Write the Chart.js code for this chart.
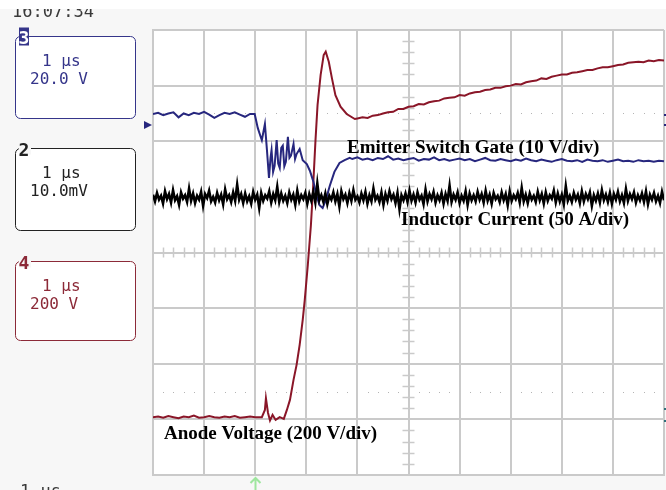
<!DOCTYPE html>
<html>
<head>
<meta charset="utf-8">
<script src="https://cdn.jsdelivr.net/npm/chart.js@4.4.1/dist/chart.umd.min.js"></script>
<style>
  body { margin: 0; background: #f7f7f7; }
  canvas { display: block; }
</style>
</head>
<body>
<canvas id="scope" width="666" height="490"></canvas>
<script>
// time in µs (1 µs/div), vertical values in screen divisions (0 = centre line)

// channel 3 - emitter switch gate
const gateTime = [
  0, 0.1, 0.2, 0.3, 0.4, 0.5, 0.6, 0.7, 0.8, 0.9, 1.0, 1.1, 1.2, 1.3, 1.4, 1.5, 1.6, 1.7, 1.8, 1.9,
  1.99, 2.05, 2.10, 2.13, 2.19, 2.23, 2.27, 2.30, 2.32, 2.35, 2.38, 2.42, 2.45, 2.48, 2.51, 2.54, 2.57, 2.60, 2.64, 2.67, 2.70, 2.75, 2.78, 2.81,
  2.87, 2.93, 3.01, 3.07, 3.14, 3.20, 3.26, 3.32, 3.38, 3.46, 3.55, 3.65, 3.75, 3.85,
  3.9, 4.0, 4.1, 4.2, 4.3, 4.4, 4.5, 4.6, 4.7, 4.8, 4.9, 5.0, 5.1, 5.2, 5.3, 5.4, 5.5, 5.6, 5.7,
  5.8, 5.9, 6.0, 6.1, 6.2, 6.3, 6.4, 6.5, 6.6, 6.7, 6.8, 6.9, 7.0, 7.1, 7.2, 7.3, 7.4, 7.5, 7.6,
  7.7, 7.8, 7.9, 8.0, 8.1, 8.2, 8.3, 8.4, 8.5, 8.6, 8.7, 8.8, 8.9, 9.0, 9.1, 9.2, 9.3, 9.4, 9.5,
  9.6, 9.7, 9.8, 9.9, 10.0
];
const gateValue = [
  2.49, 2.51, 2.47, 2.50, 2.52, 2.43, 2.50, 2.47, 2.51, 2.49, 2.53, 2.48, 2.42, 2.47, 2.51, 2.49, 2.52, 2.48, 2.44, 2.49,
  2.49, 2.24, 2.10, 2.02, 2.31, 1.84, 1.34, 1.70, 1.84, 1.45, 1.56, 2.02, 1.60, 1.52, 1.88, 1.92, 1.55, 1.63, 2.08, 1.70, 1.74, 1.95, 1.68, 1.77,
  1.86, 1.66, 1.59, 1.47, 1.27, 1.02, 0.85, 0.80, 0.94, 1.20, 1.45, 1.61, 1.66, 1.70,
  1.68, 1.71, 1.67, 1.69, 1.66, 1.70, 1.68, 1.73, 1.67, 1.69, 1.66, 1.68, 1.70, 1.65, 1.68, 1.67,
  1.71, 1.66, 1.68, 1.65, 1.67, 1.69, 1.66, 1.68, 1.64, 1.67, 1.70, 1.66, 1.65, 1.68, 1.66, 1.64,
  1.67, 1.65, 1.69, 1.66, 1.64, 1.67, 1.65, 1.63, 1.66, 1.68, 1.65, 1.64, 1.66, 1.63, 1.67, 1.65,
  1.64, 1.66, 1.63, 1.65, 1.67, 1.64, 1.65, 1.63, 1.66, 1.64, 1.65, 1.63, 1.65, 1.64
];

// channel 4 - anode voltage
const anodeTime = [
  0, 0.1, 0.2, 0.3, 0.4, 0.5, 0.6, 0.7, 0.8, 0.9, 1.0, 1.1, 1.2, 1.3, 1.4, 1.5, 1.6, 1.7, 1.8, 1.9, 2.0,
  2.13, 2.19, 2.21, 2.25, 2.29, 2.34, 2.40, 2.48, 2.56, 2.62, 2.68, 2.75, 2.81, 2.87, 2.93, 2.97,
  3.03, 3.09, 3.13, 3.18, 3.22, 3.28, 3.34, 3.38, 3.44, 3.50, 3.57, 3.67, 3.79, 3.95,
  4.0, 4.1, 4.2, 4.3, 4.4, 4.5, 4.6, 4.7, 4.8, 4.9, 5.0, 5.1, 5.2, 5.3, 5.4, 5.5, 5.6, 5.7, 5.8,
  5.9, 6.0, 6.1, 6.2, 6.3, 6.4, 6.5, 6.6, 6.7, 6.8, 6.9, 7.0, 7.1, 7.2, 7.3, 7.4, 7.5, 7.6, 7.7,
  7.8, 7.9, 8.0, 8.1, 8.2, 8.3, 8.4, 8.5, 8.6, 8.7, 8.8, 8.9, 9.0, 9.1, 9.2, 9.3, 9.4, 9.5, 9.6,
  9.7, 9.8, 9.9, 10.0
];
const anodeValue = [
  -2.96, -2.95, -2.97, -2.94, -2.96, -2.98, -2.95, -2.96, -2.93, -2.97, -2.96, -2.94, -2.96, -2.97, -2.95, -2.96, -2.94, -2.97, -2.96, -2.95, -2.96,
  -2.96, -2.83, -2.62, -2.88, -3.02, -2.92, -3.01, -2.96, -2.99, -2.83, -2.65, -2.29, -2.02, -1.66, -1.21, -0.85,
  -0.22, 0.49, 1.12, 2.02, 2.65, 3.19, 3.55, 3.61, 3.43, 3.14, 2.83, 2.62, 2.49, 2.40,
  2.41, 2.43, 2.42, 2.46, 2.47, 2.50, 2.52, 2.53, 2.58, 2.58, 2.62, 2.63, 2.67, 2.66, 2.70, 2.72, 2.73, 2.77, 2.78,
  2.79, 2.83, 2.82, 2.86, 2.88, 2.89, 2.92, 2.93, 2.96, 2.96, 2.99, 3.00, 3.03, 3.02, 3.06, 3.08, 3.09, 3.13, 3.12,
  3.16, 3.18, 3.20, 3.20, 3.23, 3.24, 3.26, 3.28, 3.28, 3.31, 3.33, 3.33, 3.35, 3.37, 3.38, 3.41, 3.42, 3.43, 3.42,
  3.45, 3.44, 3.46, 3.45
];

// channel 2 - inductor current, one sample per 10/255 µs
const currentStep = 10 / 255;
const currentValue = [
  1.04, 0.92, 1.07, 0.95, 1.02, 0.88, 1.10, 0.96, 1.05, 0.90, 1.12, 0.94, 1.01, 0.86, 1.08, 0.97,
  1.03, 0.91, 1.15, 0.93, 1.06, 0.89, 1.02, 0.95, 1.09, 0.84, 1.05, 0.98, 1.11, 0.92, 1.00, 0.90,
  1.07, 0.94, 1.04, 0.87, 1.13, 0.96, 1.03, 0.91, 1.08, 0.93, 1.22, 0.95, 1.05, 0.89, 1.06, 0.92,
  1.01, 0.88, 1.09, 0.95, 1.04, 0.80, 1.07, 0.93, 1.03, 0.97, 1.10, 0.90, 1.05, 0.94, 1.18, 0.91,
  1.06, 0.93, 1.02, 0.89, 1.08, 0.95, 1.04, 0.86, 1.11, 0.92, 1.03, 0.96, 1.07, 0.88, 1.05, 0.93,
  1.09, 0.90, 1.24, 0.94, 1.03, 0.91, 1.06, 0.87, 1.02, 0.95, 1.08, 0.92, 1.05, 0.83, 1.10, 0.96,
  1.04, 0.89, 1.07, 0.93, 1.12, 0.95, 1.01, 0.90, 1.06, 0.94, 1.09, 0.88, 1.03, 0.92, 1.15, 0.95,
  1.02, 0.91, 1.08, 0.86, 1.05, 0.93, 1.10, 0.96, 1.04, 0.89, 1.07, 0.78, 1.03, 0.94, 1.06, 0.91,
  1.11, 0.93, 1.04, 0.90, 1.08, 0.95, 1.02, 0.87, 1.13, 0.92, 1.05, 0.96, 1.09, 0.90, 1.03, 0.94,
  1.07, 0.88, 1.05, 0.93, 1.20, 0.91, 1.04, 0.95, 1.08, 0.89, 1.02, 0.93, 1.10, 0.86, 1.06, 0.94,
  1.03, 0.92, 1.09, 0.95, 1.05, 0.90, 1.11, 0.93, 1.04, 0.88, 1.07, 0.96, 1.02, 0.91, 1.08, 0.94,
  1.05, 0.85, 1.10, 0.93, 1.03, 0.96, 1.07, 0.90, 1.16, 0.92, 1.04, 0.89, 1.06, 0.95, 1.02, 0.91,
  1.09, 0.94, 1.05, 0.88, 1.08, 0.93, 1.03, 0.97, 1.11, 0.90, 1.06, 0.92, 1.04, 0.87, 1.19, 0.93,
  1.02, 0.91, 1.07, 0.95, 1.04, 0.89, 1.10, 0.92, 1.05, 0.96, 1.08, 0.84, 1.03, 0.93, 1.06, 0.90,
  1.12, 0.94, 1.04, 0.91, 1.07, 0.88, 1.05, 0.95, 1.09, 0.92, 1.03, 0.89, 1.14, 0.93, 1.05, 0.96,
  1.08, 0.90, 1.03, 0.94, 1.06, 0.91, 1.10, 0.87, 1.04, 0.95, 1.07, 0.92, 1.02, 0.89, 1.09, 0.94
];

const traceLabels = ['Emitter Switch Gate (10 V/div)', 'Inductor Current (50 A/div)', 'Anode Voltage (200 V/div)'];
const channelBoxes = [
  { ch: '3', time: '1 µs', scale: '20.0 V', color: '#35358a' },
  { ch: '2', time: '1 µs', scale: '10.0mV', color: '#222222' },
  { ch: '4', time: '1 µs', scale: '200 V', color: '#8c2a38' }
];

const BLUE = '#27277e';
const RED = '#8a1628';
const GRID = '#cacaca';

const pairs = (xs, ys) => ys.map((y, i) => ({ x: xs[i], y }));

const scopeDecor = {
  id: 'scopeDecor',
  beforeDraw(chart) {
    const { ctx, chartArea: a } = chart;
    ctx.save();
    ctx.fillStyle = '#f7f7f7';
    ctx.fillRect(0, 0, chart.width, chart.height);
    ctx.fillStyle = '#ffffff';
    ctx.fillRect(a.left, a.top, a.right - a.left, a.bottom - a.top);
    ctx.restore();
  },
  beforeDatasetsDraw(chart) {
    const { ctx, scales: { x, y } } = chart;
    ctx.save();
    ctx.strokeStyle = GRID;
    ctx.lineWidth = 1.5;
    // minor ticks on the centre lines
    const yc = y.getPixelForValue(0);
    for (let t = 0.2; t < 10; t += 0.2) {
      if (Math.abs(t - Math.round(t)) < 0.01) continue;
      const px = Math.round(x.getPixelForValue(t)) + 0.5;
      ctx.beginPath(); ctx.moveTo(px, yc - 5); ctx.lineTo(px, yc + 5); ctx.stroke();
    }
    const xc = x.getPixelForValue(5);
    for (let v = -3.8; v < 4; v += 0.2) {
      if (Math.abs(v - Math.round(v)) < 0.01) continue;
      const py = Math.round(y.getPixelForValue(v)) + 0.5;
      ctx.beginPath(); ctx.moveTo(xc - 6, py); ctx.lineTo(xc + 6, py); ctx.stroke();
    }
    // dotted lines at +-2.5 div
    ctx.fillStyle = '#b4b4b4';
    [2.5, -2.5].forEach(v => {
      const py = Math.round(y.getPixelForValue(v));
      for (let t = 0.2; t < 10; t += 0.2) {
        if (Math.abs(t - Math.round(t)) < 0.01) continue;
        ctx.fillRect(Math.round(x.getPixelForValue(t)), py, 1, 1);
      }
    });
    ctx.restore();
  },
  afterDraw(chart) {
    const { ctx } = chart;
    ctx.save();

    // trace annotations
    ctx.fillStyle = '#000';
    ctx.font = 'bold 19px "Liberation Serif"';
    ctx.textBaseline = 'alphabetic';
    ctx.fillText(traceLabels[0], 347, 153, 253);
    ctx.fillText(traceLabels[1], 401, 225, 229);
    ctx.fillText(traceLabels[2], 164, 439, 219);

    // channel boxes on the left
    const tops = [36.5, 148.5, 261.5];
    const bottoms = [118.5, 230.5, 340.5];
    channelBoxes.forEach((b, i) => {
      ctx.strokeStyle = b.color;
      ctx.lineWidth = 1;
      ctx.beginPath();
      ctx.roundRect(15.5, tops[i], 120, bottoms[i] - tops[i], 5);
      ctx.fillStyle = '#ffffff';
      ctx.fill();
      ctx.stroke();
      ctx.fillStyle = b.color;
      ctx.font = '16px "DejaVu Sans Mono"';
      ctx.fillText(b.time, 42, tops[i] + 29);
      ctx.fillText(b.scale, 30, tops[i] + 47);
      ctx.font = 'bold 18px "DejaVu Sans Mono"';
      if (i === 0) {
        ctx.fillRect(19, tops[i] - 9, 10, 18);
        ctx.fillStyle = '#ffffff';
        ctx.fillText(b.ch, 18.5, tops[i] + 7);
      } else {
        ctx.fillStyle = '#f7f7f7';
        ctx.fillRect(19, tops[i] - 10, 12, 16);
        ctx.fillStyle = b.color;
        ctx.fillText(b.ch, 18.5, tops[i] + 7);
      }
    });

    // clock at top and timebase at bottom, both cut by the frame
    ctx.fillStyle = '#3a3a3a';
    ctx.font = '17px "DejaVu Sans Mono"';
    ctx.fillText('16:07:34', 12, 17);
    ctx.fillText('1 µs', 20, 497);
    ctx.fillStyle = '#ffffff';
    ctx.fillRect(0, 0, 666, 9);

    // ground marker for channel 3
    ctx.fillStyle = BLUE;
    ctx.beginPath();
    ctx.moveTo(144, 121); ctx.lineTo(152, 125); ctx.lineTo(144, 129); ctx.closePath();
    ctx.fill();
    ctx.fillRect(664, 114, 2, 2);
    ctx.fillRect(664, 124, 2, 2);
    ctx.fillStyle = '#2f6f7a';
    ctx.fillRect(664, 408, 2, 2);
    ctx.fillRect(664, 420, 2, 2);

    // trigger arrow
    const tx = Math.round(chart.scales.x.getPixelForValue(2)) + 0.5;
    ctx.strokeStyle = '#9ee69e';
    ctx.lineWidth = 2;
    ctx.beginPath();
    ctx.moveTo(tx, 490); ctx.lineTo(tx, 478);
    ctx.moveTo(tx - 5, 483); ctx.lineTo(tx, 478); ctx.lineTo(tx + 5, 483);
    ctx.stroke();
    ctx.restore();
  }
};

new Chart(document.getElementById('scope'), {
  type: 'scatter',
  data: {
    datasets: [
      {
        label: 'Inductor Current',
        data: currentValue.map((v, i) => ({ x: i * currentStep, y: v })),
        borderColor: '#000000',
        borderWidth: 2.6,
        showLine: true,
        pointRadius: 0
      },
      {
        label: 'Emitter Switch Gate',
        data: pairs(gateTime, gateValue),
        borderColor: BLUE,
        borderWidth: 2,
        showLine: true,
        pointRadius: 0
      },
      {
        label: 'Anode Voltage',
        data: pairs(anodeTime, anodeValue),
        borderColor: RED,
        borderWidth: 2,
        showLine: true,
        pointRadius: 0
      }
    ]
  },
  options: {
    responsive: false,
    devicePixelRatio: 1,
    animation: false,
    events: [],
    layout: { padding: { left: 153, top: 30, right: 2, bottom: 15 } },
    plugins: { legend: { display: false }, tooltip: { enabled: false } },
    scales: {
      x: {
        type: 'linear', min: 0, max: 10,
        ticks: { display: false, stepSize: 1 },
        grid: { color: GRID, lineWidth: 2, drawTicks: false },
        border: { color: GRID, width: 2 }
      },
      y: {
        type: 'linear', min: -4, max: 4,
        ticks: { display: false, stepSize: 1 },
        grid: { color: GRID, lineWidth: 2, drawTicks: false },
        border: { color: GRID, width: 2 }
      }
    }
  },
  plugins: [scopeDecor]
});
</script>
</body>
</html>
